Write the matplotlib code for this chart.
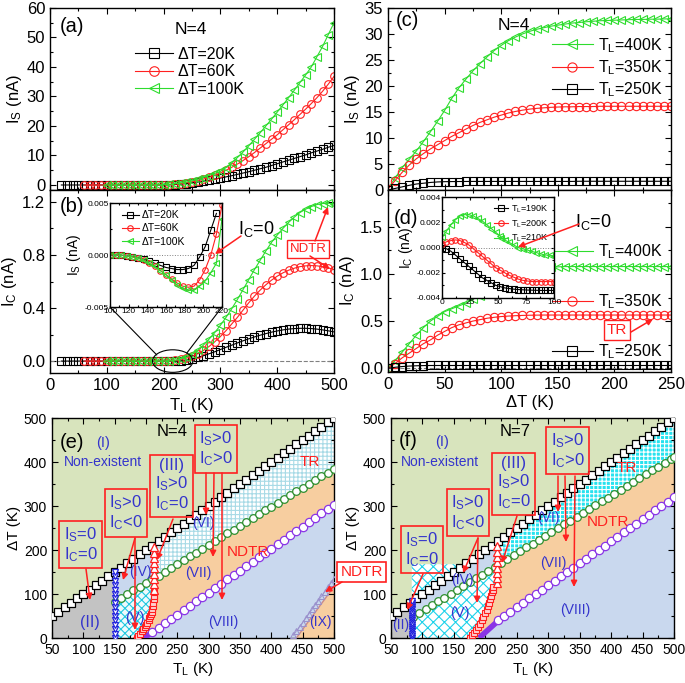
import numpy as np
import matplotlib
matplotlib.use('Agg')
import matplotlib.pyplot as plt
from matplotlib.patches import Ellipse, ConnectionPatch, FancyArrowPatch
from matplotlib.ticker import MultipleLocator, FormatStrFormatter

plt.rcParams['font.family'] = ['Liberation Sans', 'DejaVu Sans']
plt.rcParams['mathtext.fontset'] = 'custom'
plt.rcParams['mathtext.rm'] = 'Liberation Sans'
plt.rcParams['mathtext.it'] = 'Liberation Sans:italic'
plt.rcParams['mathtext.default'] = 'regular'
plt.rcParams['hatch.linewidth'] = 0.8
plt.rcParams['axes.linewidth'] = 1.0

W, H = 685, 683

# ---------------- (a), (b): currents vs T_L ----------------
TL_20 = np.arange(20, 501, 10)
TL_60 = np.arange(60, 501, 10)
TL_100 = np.arange(100, 501, 10)

IS_20 = [0.0] * 19 + [0.05, 0.15, 0.3, 0.5, 0.75, 1.0, 1.3, 1.6, 2.0, 2.35,
                      2.75, 3.15, 3.6, 4.05, 4.5, 5.0, 5.5, 6.0, 6.6, 7.2,
                      7.8, 8.4, 9.0, 9.6, 10.2, 10.9, 11.5, 12.1, 12.8, 13.4]
IS_60 = [0.0] * 14 + [0.05, 0.15, 0.3, 0.5, 0.8, 1.1, 1.5, 2.0, 2.6, 3.3,
                      4.1, 5.0, 6.0, 7.1, 8.3, 9.6, 11.0, 12.5, 14.0, 15.5,
                      17.0, 18.7, 20.4, 22.1, 23.9, 25.7, 27.6, 29.6, 31.8, 34.2, 36.8]
IS_100 = [0.0] * 10 + [0.1, 0.25, 0.45, 0.7, 1.0, 1.4, 1.9, 2.5, 3.2, 3.9,
                       4.6, 5.9, 7.5, 9.3, 11.2, 13.3, 15.5, 17.7, 20.0, 22.3,
                       24.7, 27.1, 29.6, 32.1, 34.7, 37.3, 40.0, 43.5, 47.0, 51.0, 55.0]

IC_20 = [0.0] * 21 + [0.002, 0.008, 0.016, 0.027, 0.04, 0.055, 0.07, 0.087, 0.104, 0.12,
                      0.137, 0.153, 0.168, 0.182, 0.195, 0.207, 0.218, 0.227, 0.235, 0.241,
                      0.245, 0.247, 0.247, 0.245, 0.241, 0.235, 0.228, 0.22]
IC_60 = [0.0] * 16 + [0.005, 0.012, 0.022, 0.035, 0.055, 0.08, 0.11, 0.145, 0.185, 0.23,
                      0.28, 0.33, 0.385, 0.44, 0.49, 0.535, 0.575, 0.61, 0.64, 0.665,
                      0.685, 0.70, 0.712, 0.718, 0.72, 0.718, 0.712, 0.703, 0.69]
IC_100 = [0.0] * 12 + [0.006, 0.016, 0.03, 0.05, 0.08, 0.12, 0.165, 0.215, 0.27, 0.33,
                       0.395, 0.465, 0.54, 0.615, 0.69, 0.76, 0.83, 0.895, 0.95, 1.0,
                       1.045, 1.085, 1.12, 1.145, 1.165, 1.18, 1.188, 1.19, 1.185]

# inset of (b)
TL_in = np.arange(100, 221, 6)
in_20 = [0.0, 0.0, -0.00002, -0.00007, -0.00015, -0.00025, -0.0004, -0.0006, -0.0008, -0.001,
         -0.0012, -0.0013, -0.0014, -0.0014, -0.0013, -0.001, -0.0002, 0.0008, 0.0024, 0.004]
in_60 = [0.0, 0.0, -0.00003, -0.0001, -0.00018, -0.0003, -0.0005, -0.0008, -0.0011, -0.0015,
         -0.0019, -0.0023, -0.0027, -0.003, -0.0031, -0.003, -0.0024, -0.0014, 0.0, 0.002, 0.0048]
in_100 = [0.0, 0.0, -0.00003, -0.0001, -0.00018, -0.0003, -0.0005, -0.0008, -0.0011, -0.0015,
          -0.0019, -0.0024, -0.0029, -0.0032, -0.0034, -0.0034, -0.003, -0.0025, -0.0017, -0.0008, 0.0035]

# ---------------- (c), (d): currents vs dT ----------------
dT = np.linspace(0, 250, 41)
IS_400 = [0.3, 2.3, 4.3, 5.9, 7.5, 9.3, 11.2, 13.2, 15.3, 17.6,
          19.6, 21.3, 22.9, 24.3, 25.6, 26.8, 27.8, 28.7, 29.4, 30.0,
          30.5, 30.9, 31.2, 31.5, 31.7, 31.9, 32.1, 32.2, 32.35, 32.45,
          32.55, 32.6, 32.65, 32.7, 32.75, 32.8, 32.8, 32.85, 32.85, 32.9, 32.9]
IS_350 = [0.2, 1.8, 3.4, 4.8, 6.0, 7.0, 7.9, 8.7, 9.5, 10.3,
          11.0, 11.7, 12.4, 13.0, 13.5, 14.0, 14.4, 14.8, 15.1, 15.35,
          15.55, 15.7, 15.8, 15.9, 15.95, 16.0, 16.0, 16.05, 16.05, 16.05,
          16.1, 16.1, 16.1, 16.1, 16.1, 16.1, 16.1, 16.1, 16.1, 16.1, 16.1]
IS_250 = [0.0, 0.3, 0.6, 0.9, 1.15, 1.3, 1.45, 1.55, 1.6, 1.62,
          1.63, 1.64] + [1.65] * 15 + [1.68] * 14
IC_400 = [0.0, 0.08, 0.17, 0.26, 0.35, 0.43, 0.5, 0.55, 0.6, 0.63,
          0.66, 0.69, 0.73, 0.77, 0.81, 0.85, 0.89, 0.93, 0.96, 0.99,
          1.02, 1.04, 1.06, 1.07, 1.075] + [1.078] * 16
IC_350 = [0.0, 0.05, 0.11, 0.16, 0.21, 0.26, 0.3, 0.35, 0.39, 0.43,
          0.46, 0.48, 0.5, 0.515, 0.53, 0.54, 0.548, 0.553, 0.557, 0.56,
          0.562, 0.563] + [0.564] * 19
IC_250 = [0.0, 0.01, 0.018, 0.023, 0.026, 0.028] + [0.029] * 35

# inset of (d)
dT_in = np.arange(0, 101, 4)
ind_190 = [0.0, -0.0001, -0.0003, -0.0006, -0.0009, -0.0012, -0.0015, -0.0018, -0.0021, -0.0024,
           -0.0026, -0.0028, -0.003, -0.0031, -0.0032, -0.00325, -0.0033, -0.00333, -0.00335, -0.00337,
           -0.00338, -0.00339, -0.0034, -0.0034, -0.0034, -0.0034]
ind_200 = [0.0003, 0.00045, 0.00055, 0.0006, 0.00055, 0.0004, 0.0002, -0.0001, -0.0004, -0.0007,
           -0.001, -0.0013, -0.0016, -0.0018, -0.002, -0.0022, -0.00235, -0.0025, -0.0026, -0.00265,
           -0.0027, -0.0027, -0.0027, -0.0027, -0.0027, -0.0027]
ind_210 = [0.0008, 0.0013, 0.0018, 0.0022, 0.0025, 0.0026, 0.0026, 0.0025, 0.0023, 0.0021,
           0.0018, 0.0015, 0.0012, 0.0009, 0.0006, 0.0004, 0.0002, 0.0, -0.0001, -0.0002,
           -0.0003, -0.0004, -0.0005, -0.0006, -0.0006, -0.0007]

# ---------------- (e), (f): phase diagrams ----------------
sq_T = np.arange(50, 501, 10)
sq_dT = np.arange(50, 501, 10)   # boundary lies on dT = T_L

e_blue_T = 150
e_blue_dT = np.arange(0, 151, 10)
e_grn_T = np.arange(150, 501, 10)
e_grn_dT = [82, 90, 99, 108, 116, 125, 134, 142, 151, 160, 168, 177, 186, 194, 203, 212, 220, 229,
            238, 246, 255, 264, 272, 281, 290, 298, 307, 316, 324, 333, 342, 350, 359, 368, 376, 385]
e_pur_T = np.arange(210, 501, 10)
e_pur_dT = [13, 23, 33, 43, 53, 63, 73, 83, 93, 103, 113, 123, 133, 143, 153,
            163, 173, 183, 193, 203, 213, 223, 233, 243, 253, 263, 273, 283, 293, 303]
e_wdg_T = [197, 211]
e_wdg_dT = [0, 14]
e_rsq_T = [185, 188, 191, 194, 196, 198, 200, 202, 204, 205.5, 207, 208, 209, 210, 211,
           211.7, 212.3, 212.8, 213]
e_rsq_dT = [0, 5, 10, 15, 20, 25, 30, 35, 40, 45, 50, 55, 60, 66, 72, 80, 88, 96, 104]
e_rtr_T = [213] * 9
e_rtr_dT = [110, 122, 134, 146, 158, 170, 182, 194, 206]
ix_tri_T = np.arange(435, 501, 5)
ix_tri_dT = [6, 16, 26, 35, 45, 55, 65, 75, 85, 95, 105, 115, 125, 135]
ix_T = [440, 500]
ix_dT = [0, 117]

f_blue_T = 83
f_blue_dT = np.arange(0, 86, 5)
f_grn_T = list(range(85, 496, 10)) + [500]
f_grn_dT = [48, 57, 66, 74, 83, 92, 101, 109, 118, 127, 136, 144, 153, 162, 171, 179, 188, 197,
            206, 214, 223, 232, 241, 249, 258, 267, 276, 284, 293, 302, 311, 319, 328, 337, 346,
            354, 363, 372, 381, 389, 398, 407, 411]
f_pur_T = np.arange(220, 501, 10)
f_pur_dT = [40, 50, 60, 70, 80, 90, 100, 110, 120, 130, 140, 150, 160, 170, 180,
            190, 200, 210, 220, 230, 240, 250, 260, 270, 280, 290, 300, 310, 320]
f_wdg_T = [190, 218]
f_wdg_dT = [0, 36]
f_rsq_T = [176, 179, 182, 185, 188, 191, 194, 197, 199.5, 202, 204, 206, 208, 209.5, 211, 212, 212.7]
f_rsq_dT = [0, 6, 12, 18, 25, 32, 40, 48, 56, 64, 72, 80, 88, 96, 104, 110, 116]
f_rtr_T = [218] * 8
f_rtr_dT = [124, 136, 148, 160, 172, 184, 196, 208]

BLK, RED, GRN = 'black', '#ff2020', '#2edc2e'
C_I, C_II, C_BL, C_OR = '#d8e4bd', '#c3c3c3', '#c9d8ee', '#f7cea0'
BLUE_T = '#3434cc'

fig = plt.figure(figsize=(W / 100, H / 100), dpi=100)


def box(l, t, r, b):
    return [l / W, 1 - b / H, (r - l) / W, (b - t) / H]


def style(ax, fs, xmaj, xmin, ymaj, ymin):
    ax.xaxis.set_major_locator(MultipleLocator(xmaj))
    ax.xaxis.set_minor_locator(MultipleLocator(xmin))
    ax.yaxis.set_major_locator(MultipleLocator(ymaj))
    ax.yaxis.set_minor_locator(MultipleLocator(ymin))
    ax.tick_params(which='both', direction='in', top=True, right=True, labelsize=fs, width=0.8)
    ax.tick_params(which='major', length=4)
    ax.tick_params(which='minor', length=2)


def ftext(x, y, s, **kw):
    kw.setdefault('ha', 'center')
    kw.setdefault('va', 'center')
    fig.text(x / W, 1 - y / H, s, **kw)


def arrow(x0, y0, x1, y1, color=RED, lw=1.1, ms=9):
    fig.add_artist(FancyArrowPatch((x0 / W, 1 - y0 / H), (x1 / W, 1 - y1 / H),
                                   transform=fig.transFigure, arrowstyle='-|>',
                                   mutation_scale=ms, color=color, lw=lw,
                                   shrinkA=0, shrinkB=0, zorder=5))


def series(ax, x, y, m, c, label=None, ms=5.5):
    ax.plot(x, y, marker=m, ms=ms, mfc='none', mec=c, mew=0.8, color=c, lw=0.8, label=label)


ax_a = fig.add_axes(box(50, 8, 334, 190))
ax_b = fig.add_axes(box(50, 190, 334, 373))
ax_c = fig.add_axes(box(388, 8, 671, 190))
ax_d = fig.add_axes(box(388, 190, 671, 372))
ax_e = fig.add_axes(box(52, 418, 334, 638))
ax_f = fig.add_axes(box(391, 418, 674, 638))
ins_b = fig.add_axes(box(110, 203, 222, 307))
ins_d = fig.add_axes(box(442, 197, 554, 298))

# ---- (a)
series(ax_a, TL_20, IS_20, 's', BLK, 'ΔT=20K')
series(ax_a, TL_60, IS_60, 'o', RED, 'ΔT=60K')
series(ax_a, TL_100, IS_100, '<', GRN, 'ΔT=100K')
ax_a.set_xlim(0, 500)
ax_a.set_ylim(-1.7, 60)
style(ax_a, 12, 100, 50, 10, 5)
ax_a.tick_params(labelbottom=False)
ax_a.set_ylabel('I$_S$ (nA)', fontsize=12, labelpad=2)
ax_a.legend(loc='upper left', bbox_to_anchor=(0.27, 0.83), frameon=False, fontsize=11.5,
            handlelength=2.4, handletextpad=0.3, labelspacing=0.15, borderpad=0, markerscale=1.25)
ftext(72, 26, '(a)', fontsize=14.5)
ftext(191, 30, 'N=4', fontsize=12.5)

# ---- (b)
ax_b.axhline(0, color='grey', ls='--', lw=0.8)
series(ax_b, TL_20, IC_20, 's', BLK)
series(ax_b, TL_60, IC_60, 'o', RED)
series(ax_b, TL_100, IC_100, '<', GRN)
ax_b.set_xlim(0, 500)
ax_b.set_ylim(-0.09, 1.29)
style(ax_b, 12, 100, 50, 0.4, 0.2)
ax_b.yaxis.set_major_formatter(FormatStrFormatter('%.1f'))
ax_b.set_ylabel('I$_C$ (nA)', fontsize=12, labelpad=2)
ax_b.set_xlabel('T$_L$ (K)', fontsize=12, labelpad=2)
ax_b.add_patch(Ellipse((216, 0), 71, 0.17, fill=False, ec='black', lw=0.8, zorder=4))
ftext(72, 207, '(b)', fontsize=14.5)

series(ins_b, TL_in[:20], in_20, 's', BLK, 'ΔT=20K', ms=4)
series(ins_b, TL_in, in_60, 'o', RED, 'ΔT=60K', ms=4)
series(ins_b, TL_in, in_100, '<', GRN, 'ΔT=100K', ms=4)
ins_b.axhline(0, color='grey', ls=':', lw=0.7)
ins_b.set_xlim(100, 220)
ins_b.set_ylim(-0.005, 0.005)
style(ins_b, 6, 20, 10, 0.005, 0.0025)
ins_b.yaxis.set_major_formatter(FormatStrFormatter('%.3f'))
ins_b.tick_params(which='major', length=2.5, pad=1)
ins_b.tick_params(which='minor', length=1.5)
ins_b.set_ylabel('I$_S$ (nA)', fontsize=10, labelpad=1)
ins_b.legend(loc='upper left', bbox_to_anchor=(0.06, 0.98), frameon=False, fontsize=7.5,
             handlelength=1.6, handletextpad=0.3, labelspacing=0.3, borderpad=0)
for xa, xb in [((0, 0), (188, 0.046)), ((1, 0), (240.6, 0.059))]:
    fig.add_artist(ConnectionPatch(xyA=xa, coordsA=ins_b.transAxes, xyB=xb,
                                   coordsB=ax_b.transData, color='black', lw=0.8))
ftext(256, 229, 'I$_C$=0', fontsize=13)
arrow(241, 236, 215, 254)
ftext(308, 249, 'NDTR', fontsize=9.5, color=RED,
      bbox=dict(boxstyle='square,pad=0.2', fc='white', ec=RED, lw=1.0))
arrow(315, 241, 328, 207)
arrow(310, 256, 330, 269)

# ---- (c)
series(ax_c, dT, IS_400, '<', GRN, 'T$_L$=400K', ms=6)
series(ax_c, dT, IS_350, 'o', RED, 'T$_L$=350K', ms=6)
series(ax_c, dT, IS_250, 's', BLK, 'T$_L$=250K', ms=6)
ax_c.set_xlim(0, 250)
ax_c.set_ylim(0, 35)
style(ax_c, 12, 50, 25, 5, 2.5)
ax_c.tick_params(labelbottom=False)
ax_c.set_ylabel('I$_S$ (nA)', fontsize=12, labelpad=2)
ax_c.legend(loc='upper right', bbox_to_anchor=(1.0, 0.89), frameon=False, fontsize=11.5,
            handlelength=2.6, handletextpad=0.3, labelspacing=0.22, borderpad=0, markerscale=1.1)
ftext(407, 20, '(c)', fontsize=14.5)
ftext(514, 25, 'N=4', fontsize=12.5)

# ---- (d)
ax_d.axhline(0, color='grey', ls='--', lw=0.8)
series(ax_d, dT, IC_400, '<', GRN, 'T$_L$=400K', ms=6)
series(ax_d, dT, IC_350, 'o', RED, 'T$_L$=350K', ms=6)
series(ax_d, dT, IC_250, 's', BLK, 'T$_L$=250K', ms=6)
ax_d.set_xlim(0, 250)
ax_d.set_ylim(-0.04, 1.89)
style(ax_d, 12, 50, 25, 0.5, 0.25)
ax_d.yaxis.set_major_formatter(FormatStrFormatter('%.1f'))
ax_d.set_ylabel('I$_C$ (nA)', fontsize=12, labelpad=2)
ax_d.set_xlabel('ΔT (K)', fontsize=12, labelpad=2)
ax_d.legend(loc='upper right', bbox_to_anchor=(1.0, 0.755), frameon=False, fontsize=11.5,
            handlelength=2.6, handletextpad=0.3, labelspacing=1.95, borderpad=0, markerscale=1.1)
ftext(406, 219, '(d)', fontsize=14.5)

ins_d.axhline(0, color='grey', ls=':', lw=0.7)
series(ins_d, dT_in, ind_190, 's', BLK, 'T$_L$=190K', ms=4)
series(ins_d, dT_in, ind_200, 'o', RED, 'T$_L$=200K', ms=4)
series(ins_d, dT_in, ind_210, '<', GRN, 'T$_L$=210K', ms=4)
ins_d.set_xlim(0, 100)
ins_d.set_ylim(-0.004, 0.004)
style(ins_d, 6, 25, 12.5, 0.002, 0.001)
ins_d.yaxis.set_major_formatter(FormatStrFormatter('%.3f'))
ins_d.tick_params(which='major', length=2.5, pad=1)
ins_d.tick_params(which='minor', length=1.5)
ins_d.set_ylabel('I$_C$ (nA)', fontsize=10, labelpad=1)
ins_d.legend(loc='upper right', bbox_to_anchor=(0.99, 0.98), frameon=False, fontsize=6.5,
             handlelength=1.6, handletextpad=0.3, labelspacing=0.35, borderpad=0)
ftext(593, 222, 'I$_C$=0', fontsize=13)
arrow(579, 224, 518, 247)
ftext(617, 330, 'TR', fontsize=11, color=RED,
      bbox=dict(boxstyle='square,pad=0.2', fc='white', ec=RED, lw=1.0))
arrow(631, 332, 653, 319)


# ---- phase diagrams
def phase(ax, blue_T, blue_dT, grn_T, grn_dT, pur_T, pur_dT, wdg_T, wdg_dT,
          rsq_T, rsq_dT, rtr_T, rtr_dT, v_kw, vi_kw):
    grn_T = np.asarray(grn_T, float)
    grn_dT = np.asarray(grn_dT, float)
    ax.set_facecolor(C_I)
    ax.fill_between(sq_T, 0, sq_dT, color=C_BL, lw=0, zorder=0.5)
    ax.fill_between(grn_T, 0, grn_dT, color=C_OR, lw=0, zorder=0.6)
    ax.fill_between(np.concatenate([wdg_T, pur_T]), 0, np.concatenate([wdg_dT, pur_dT]),
                    color=C_BL, lw=0, zorder=0.7)
    # region (V)
    top = np.interp(rtr_T[0], grn_T, grn_dT) + 3
    rx = np.concatenate([rsq_T, rtr_T])
    ry = np.concatenate([rsq_dT, rtr_dT])
    m = ry <= top
    ax.fill_betweenx(np.append(ry[m], top), blue_T, np.append(rx[m], rtr_T[0]),
                     zorder=0.8, **v_kw)
    # region (IV)
    m4 = grn_T <= rtr_T[0]
    ax.fill_between(grn_T[m4], grn_dT[m4], np.interp(grn_T[m4], sq_T, sq_dT),
                    color=C_BL, lw=0, zorder=0.9)
    # region (VI)
    m6 = grn_T >= grn_T[m4][-1]
    ax.fill_between(grn_T[m6], grn_dT[m6], np.interp(grn_T[m6], sq_T, sq_dT),
                    zorder=0.9, **vi_kw)
    # region (II)
    m2 = sq_T <= blue_T
    ax.fill_between(np.append(sq_T[m2], blue_T), 0,
                    np.append(sq_dT[m2], np.interp(blue_T, sq_T, sq_dT)),
                    color=C_II, lw=0, zorder=1)
    # boundaries
    ax.plot(sq_T, sq_dT, 's-', ms=5.5, mfc='white', mec=BLK, mew=0.9, color=BLK, lw=0.8, zorder=3)
    ax.plot(grn_T, grn_dT, 'o-', ms=5.5, mfc='white', mec='#2f8f2f', mew=0.9, color='#2f8f2f',
            lw=0.8, zorder=3)
    ax.plot(wdg_T, wdg_dT, '-', color='#8a35e6', lw=4, solid_capstyle='butt', zorder=3)
    ax.plot(pur_T, pur_dT, 'o-', ms=6, mfc='white', mec='#8a35e6', mew=0.9, color='#8a35e6',
            lw=0.8, zorder=3)
    ax.plot([blue_T] * len(blue_dT), blue_dT, 'v-', ms=5, mfc='white', mec='#2222dd', mew=0.9,
            color='#2222dd', lw=0.8, zorder=3)
    rsq_T = np.asarray(rsq_T, float)
    rsq_dT = np.asarray(rsq_dT, float)
    lo = rsq_dT <= 50
    ax.plot(rsq_T[lo], rsq_dT[lo], '-', color='#ff3030', lw=4, zorder=3)
    ax.plot(rsq_T, rsq_dT, 's-', ms=4.5, mfc='#ffd0d0', mec=RED, mew=0.8, color=RED, lw=0.8, zorder=3)
    ax.plot(rtr_T, rtr_dT, '^-', ms=5.5, mfc='white', mec=RED, mew=0.9, color=RED, lw=0.8, zorder=3)
    ax.set_xlim(50, 500)
    ax.set_ylim(0, 500)
    style(ax, 10, 50, 25, 100, 50)
    ax.set_xlabel('T$_L$ (K)', fontsize=11, labelpad=2)
    ax.set_ylabel('ΔT (K)', fontsize=11, labelpad=2)


phase(ax_e, e_blue_T, e_blue_dT, e_grn_T, e_grn_dT, e_pur_T, e_pur_dT, e_wdg_T, e_wdg_dT,
      e_rsq_T, e_rsq_dT, e_rtr_T, e_rtr_dT,
      dict(facecolor='#eefafc', edgecolor='#20c8e0', hatch='xxxx', lw=0),
      dict(facecolor='white', edgecolor='#a8dae6', hatch='++++', lw=0))
ax_e.fill_between(ix_T, 0, ix_dT, color=C_OR, lw=0, zorder=1)
ax_e.plot(ix_T, ix_dT, '-', color='#d08a80', lw=1.0, zorder=3)
ax_e.plot(ix_tri_T, ix_tri_dT, '^-', ms=4, mfc='none', mec='#9a90cc', mew=0.7, color='#9a90cc',
          lw=0.6, zorder=3)

phase(ax_f, f_blue_T, f_blue_dT, f_grn_T, f_grn_dT, f_pur_T, f_pur_dT, f_wdg_T, f_wdg_dT,
      f_rsq_T, f_rsq_dT, f_rtr_T, f_rtr_dT,
      dict(facecolor='white', edgecolor='#1ed2ea', hatch='xxx', lw=0),
      dict(facecolor='#27e2ef', edgecolor='white', hatch='++++', lw=0))

BOXKW = dict(boxstyle='square,pad=0.25', fc='none', ec=RED, lw=1.2)

# (e) annotations
ftext(72, 443, '(e)', fontsize=14.5)
ftext(103, 443, '(I)', fontsize=10.5, color=BLUE_T)
ftext(103, 462, 'Non-existent', fontsize=10, color=BLUE_T)
ftext(172, 432, 'N=4', fontsize=12)
ftext(310, 462, 'TR', fontsize=11, color=RED)
ftext(248, 552, 'NDTR', fontsize=11, color=RED)
ftext(203, 523, '(VI)', fontsize=10, color=BLUE_T)
ftext(198, 573, '(VII)', fontsize=10, color=BLUE_T)
ftext(223, 622, '(VIII)', fontsize=10, color=BLUE_T)
ftext(320, 622, '(IX)', fontsize=10, color=BLUE_T)
ftext(90, 622, '(II)', fontsize=11.5, color=BLUE_T)
ftext(135, 618, '(V)', fontsize=10.5, color=BLUE_T)
ftext(140, 572, '(IV)', fontsize=10, color=BLUE_T)
ftext(80.5, 544.5, 'I$_S$=0\nI$_C$=0', fontsize=12, color=BLUE_T, bbox=BOXKW, linespacing=1.1)
ftext(126, 513, 'I$_S$>0\nI$_C$<0', fontsize=12, color=BLUE_T, bbox=BOXKW, linespacing=1.1)
ftext(171.5, 485.5, '(III)\nI$_S$>0\nI$_C$=0', fontsize=12, color=BLUE_T, bbox=BOXKW,
      linespacing=1.1)
ftext(216, 449, 'I$_S$>0\nI$_C$>0', fontsize=12, color=BLUE_T, bbox=BOXKW, linespacing=1.1)
arrow(86, 569, 90, 600)
arrow(135, 538, 123, 580)
arrow(135, 538, 135, 630)
arrow(173, 519, 157, 560)
arrow(206, 473, 206, 515)
arrow(214, 473, 213, 557)
arrow(222, 473, 222, 600)
ftext(361.5, 572, 'NDTR', fontsize=11, color=RED,
      bbox=dict(boxstyle='square,pad=0.2', fc='white', ec=RED, lw=1.2))
arrow(342, 582, 325, 592)

# (f) annotations
ftext(408, 440, '(f)', fontsize=14.5)
ftext(442, 442, '(I)', fontsize=10.5, color=BLUE_T)
ftext(440, 462, 'Non-existent', fontsize=10, color=BLUE_T)
ftext(515, 432, 'N=7', fontsize=12)
ftext(627, 468, 'TR', fontsize=11, color=RED)
ftext(608, 522, 'NDTR', fontsize=11, color=RED)
ftext(548, 518, '(VI)', fontsize=10, color=BLUE_T)
ftext(553, 563, '(VII)', fontsize=10, color=BLUE_T)
ftext(575, 610, '(VIII)', fontsize=10, color=BLUE_T)
ftext(460, 613, '(V)', fontsize=10.5, color=BLUE_T)
ftext(462, 580, '(IV)', fontsize=10, color=BLUE_T)
ftext(401, 625, '(II)', fontsize=10, color=BLUE_T)
ftext(422, 549.5, 'I$_S$=0\nI$_C$=0', fontsize=12, color=BLUE_T, bbox=BOXKW, linespacing=1.1)
ftext(468, 512.5, 'I$_S$>0\nI$_C$<0', fontsize=12, color=BLUE_T, bbox=BOXKW, linespacing=1.1)
ftext(513.5, 483.5, '(III)\nI$_S$>0\nI$_C$=0', fontsize=12, color=BLUE_T, bbox=BOXKW,
      linespacing=1.1)
ftext(567.5, 450.5, 'I$_S$>0\nI$_C$>0', fontsize=12, color=BLUE_T, bbox=BOXKW, linespacing=1.1)
arrow(423, 574, 407, 610)
arrow(478, 538, 463, 573)
arrow(478, 538, 477, 603)
arrow(517, 516, 502, 563)
arrow(558, 476, 558, 512)
arrow(565, 476, 566, 542)
arrow(575, 476, 574, 587)

fig.savefig('out.png', dpi=100)
